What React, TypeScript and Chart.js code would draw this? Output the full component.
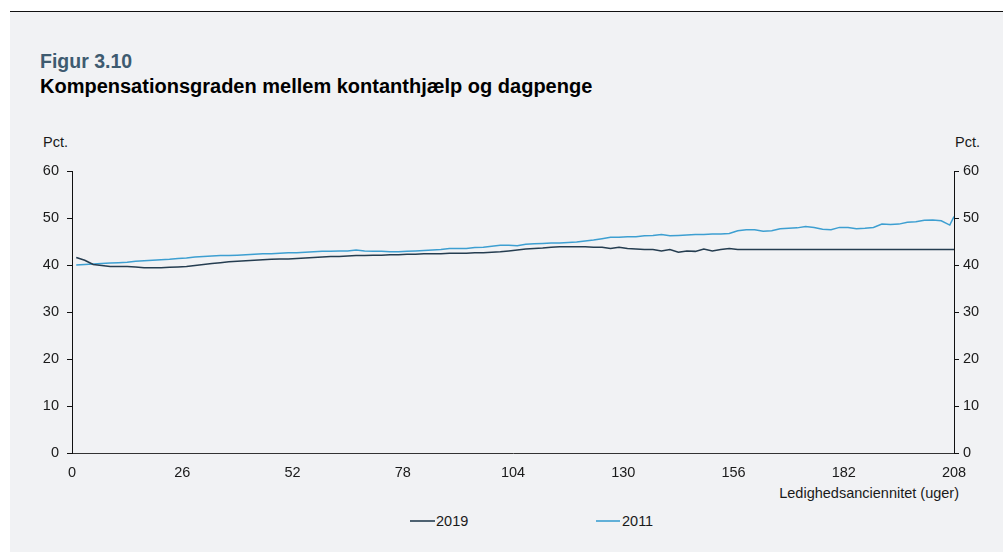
import React, { useEffect, useRef } from "react";
import { Chart, registerables } from "chart.js";

Chart.register(...registerables);

const weeks = [
  1, 3, 5, 7, 9, 11, 13, 15, 17, 19,
  21, 23, 25, 27, 29, 31, 33, 35, 37, 39,
  41, 43, 45, 47, 49, 51, 53, 55, 57, 59,
  61, 63, 65, 67, 69, 71, 73, 75, 77, 79,
  81, 83, 85, 87, 89, 91, 93, 95, 97, 99,
  101, 103, 105, 107, 109, 111, 113, 115, 117, 119,
  121, 123, 125, 127, 129, 131, 133, 135, 137, 139,
  141, 143, 145, 147, 149, 151, 153, 155, 157, 159,
  161, 163, 165, 167, 169, 171, 173, 175, 177, 179,
  181, 183, 185, 187, 189, 191, 193, 195, 197, 199,
  201, 203, 205, 207, 208,
];

const values2019 = [
  41.6, 41.0, 40.1, 39.9, 39.7, 39.7, 39.7, 39.6, 39.4, 39.4,
  39.4, 39.5, 39.6, 39.7, 39.9, 40.1, 40.3, 40.5, 40.7, 40.8,
  40.9, 41.0, 41.1, 41.2, 41.3, 41.3, 41.4, 41.5, 41.6, 41.7,
  41.8, 41.8, 41.9, 42.0, 42.0, 42.1, 42.1, 42.2, 42.2, 42.3,
  42.3, 42.4, 42.4, 42.4, 42.5, 42.5, 42.5, 42.6, 42.6, 42.7,
  42.8, 43.0, 43.2, 43.4, 43.5, 43.6, 43.8, 43.9, 43.9, 43.9,
  43.9, 43.8, 43.8, 43.5, 43.8, 43.5, 43.4, 43.3, 43.3, 43.0,
  43.3, 42.7, 43.0, 42.9, 43.4, 43.0, 43.3, 43.5, 43.3, 43.3,
  43.3, 43.3, 43.3, 43.3, 43.3, 43.3, 43.3, 43.3, 43.3, 43.3,
  43.3, 43.3, 43.3, 43.3, 43.3, 43.3, 43.3, 43.3, 43.3, 43.3,
  43.3, 43.3, 43.3, 43.3, 43.3,
];

const values2011 = [
  40.0, 40.1, 40.2, 40.3, 40.4, 40.5, 40.6, 40.8, 40.9, 41.0,
  41.1, 41.2, 41.4, 41.5, 41.7, 41.8, 41.9, 42.0, 42.0, 42.1,
  42.2, 42.3, 42.4, 42.4, 42.5, 42.6, 42.6, 42.7, 42.8, 42.9,
  42.9, 43.0, 43.0, 43.2, 43.0, 42.9, 42.9, 42.8, 42.8, 42.9,
  43.0, 43.1, 43.2, 43.3, 43.5, 43.5, 43.5, 43.7, 43.8, 44.0,
  44.2, 44.2, 44.1, 44.4, 44.5, 44.6, 44.7, 44.7, 44.8, 44.9,
  45.1, 45.3, 45.6, 45.9, 45.9, 46.0, 46.0, 46.2, 46.3, 46.5,
  46.2, 46.3, 46.4, 46.5, 46.5, 46.6, 46.6, 46.7, 47.3, 47.5,
  47.5, 47.2, 47.3, 47.7, 47.8, 47.9, 48.2, 48.0, 47.6, 47.5,
  48.0, 48.0, 47.7, 47.8, 48.0, 48.7, 48.6, 48.7, 49.1, 49.2,
  49.5, 49.6, 49.4, 48.5, 50.3,
];

const xTickValues = [0, 26, 52, 78, 104, 130, 156, 182, 208];
const yTickValues = [0, 10, 20, 30, 40, 50, 60];

const seriesNames = ["2019", "2011"];
const seriesColors = ["#253d50", "#3d9fd1"];

const FONT = "'Liberation Sans', Arial, sans-serif";
const SMALL = 14.5;

export default function App() {
  const canvasRef = useRef<HTMLCanvasElement | null>(null);

  useEffect(() => {
    const canvas = canvasRef.current;
    if (!canvas) return;
    const series = [values2019, values2011];
    const chart = new Chart(canvas, {
      type: "line",
      data: {
        datasets: series.map((vals, i) => ({
          label: seriesNames[i],
          data: weeks.map((w, j) => ({ x: w, y: vals[j] })),
          borderColor: seriesColors[i],
          backgroundColor: seriesColors[i],
          borderWidth: 1.5,
          pointRadius: 0,
          tension: 0,
          fill: false,
          yAxisID: "y",
        })),
      },
      options: {
        animation: false,
        responsive: false,
        maintainAspectRatio: false,
        devicePixelRatio: 1,
        layout: { padding: { top: 171, left: 0, right: 0, bottom: 0 } },
        plugins: {
          legend: { display: false },
          tooltip: { enabled: false },
          title: { display: false },
        },
        scales: {
          x: {
            type: "linear",
            min: 0,
            max: 208,
            afterBuildTicks: (scale: any) => {
              scale.ticks = xTickValues.map((v) => ({ value: v }));
            },
            afterFit: (scale: any) => {
              scale.height = 99;
            },
            grid: { display: true, drawOnChartArea: false, drawTicks: false, color: "#333" },
            border: { display: true, color: "#333", width: 1 },
            ticks: {
              padding: 11,
              color: "#1a1a1a",
              font: { family: FONT, size: SMALL },
              maxRotation: 0,
              autoSkip: false,
            },
          },
          y: {
            type: "linear",
            position: "left",
            min: 0,
            max: 60,
            afterBuildTicks: (scale: any) => {
              scale.ticks = yTickValues.map((v) => ({ value: v }));
            },
            afterFit: (scale: any) => {
              scale.width = 72;
            },
            grid: { display: true, drawOnChartArea: false, drawTicks: true, tickLength: 5, color: "#111" },
            border: { display: true, color: "#111", width: 1 },
            ticks: {
              padding: 8,
              color: "#1a1a1a",
              font: { family: FONT, size: SMALL },
            },
          },
          y2: {
            type: "linear",
            position: "right",
            min: 0,
            max: 60,
            afterBuildTicks: (scale: any) => {
              scale.ticks = yTickValues.map((v) => ({ value: v }));
            },
            afterFit: (scale: any) => {
              scale.width = 49;
            },
            grid: { display: true, drawOnChartArea: false, drawTicks: true, tickLength: 5, color: "#111" },
            border: { display: true, color: "#111", width: 1 },
            ticks: {
              padding: 4,
              color: "#1a1a1a",
              font: { family: FONT, size: SMALL },
            },
          },
        },
      },
    });
    return () => chart.destroy();
  }, []);

  const textBase: React.CSSProperties = {
    position: "absolute",
    fontFamily: FONT,
    whiteSpace: "nowrap",
  };
  const small: React.CSSProperties = {
    ...textBase,
    fontSize: SMALL,
    lineHeight: `${SMALL}px`,
    color: "#1a1a1a",
  };

  return (
    <div
      style={{
        position: "absolute",
        left: 0,
        top: 0,
        width: 1003,
        height: 552,
        background: "#ffffff",
        overflow: "hidden",
      }}
    >
      <div style={{ position: "absolute", left: 10, top: 11, width: 993, height: 1, background: "#111" }} />
      <div style={{ position: "absolute", left: 10, top: 12, width: 993, height: 540, background: "#f1f2f4" }} />
      <div style={{ ...textBase, left: 40, top: 52, fontSize: 19.5, lineHeight: "19.5px", fontWeight: "bold", color: "#3e5b70" }}>
        Figur 3.10
      </div>
      <div style={{ ...textBase, left: 40, top: 75.5, fontSize: 20, lineHeight: "20px", fontWeight: "bold", color: "#000" }}>
        Kompensationsgraden mellem kontanthjælp og dagpenge
      </div>
      <div style={{ ...small, left: 43, top: 135 }}>Pct.</div>
      <div style={{ ...small, left: 955, top: 135 }}>Pct.</div>
      <div style={{ ...small, right: 44, top: 486, textAlign: "right" }}>Ledighedsanciennitet (uger)</div>
      <div style={{ position: "absolute", left: 410, top: 520, width: 25, height: 2, background: seriesColors[0], opacity: 0.8 }} />
      <div style={{ ...small, left: 436, top: 514 }}>{seriesNames[0]}</div>
      <div style={{ position: "absolute", left: 596, top: 520, width: 24, height: 2, background: seriesColors[1], opacity: 0.8 }} />
      <div style={{ ...small, left: 622, top: 514 }}>{seriesNames[1]}</div>
      <canvas
        ref={canvasRef}
        width={1003}
        height={552}
        style={{ position: "absolute", left: 0, top: 0, width: 1003, height: 552 }}
      />
    </div>
  );
}
